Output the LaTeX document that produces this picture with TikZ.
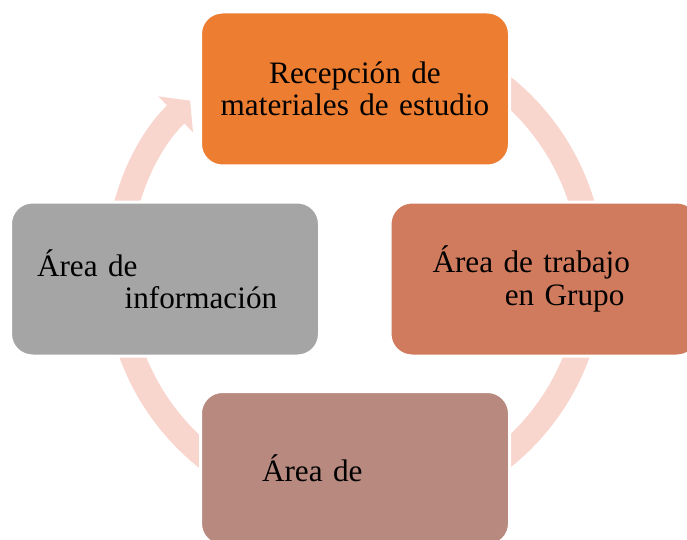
\documentclass[tikz,border=0pt]{standalone}
\usepackage{fontspec}
\setmainfont{Liberation Serif}
\usetikzlibrary{positioning,arrows.meta}

\definecolor{recepcion}{HTML}{ED7D31}
\definecolor{grupo}{HTML}{D17B5E}
\definecolor{estudio}{HTML}{B8897F}
\definecolor{informacion}{HTML}{A5A5A5}
\definecolor{ciclo}{HTML}{F8D5CD}

\begin{document}
\begin{tikzpicture}[node distance=190pt, on grid,
    area/.style 2 args={rectangle, rounded corners=22pt, draw=white, line width=3pt,
      fill=#1, minimum width=309pt, minimum height=154pt, text width=#2,
      font=\fontsize{31.2pt}{32.3pt}\selectfont, align=left, inner sep=0pt},
    ring/.style={draw=ciclo, line width=25pt, -{Triangle[width=49pt,length=20pt]}}]

  \useasboundingbox (0,0) rectangle (687pt,539pt);

  % circular arrow behind the boxes
  \coordinate (hub) at (354.5pt,267pt);
  \draw[ring] (hub) ++(90:237.5pt) arc[start angle=90, end angle=-226.2, radius=237.5pt];

  \node[area={recepcion}{290pt}, align=center] (top) at (355pt,450pt) {Recepción de\\materiales de estudio};
  \node[area={informacion}{256pt}] (info) [below left=190pt and 190pt of top] {Área de\\\hspace*{87.7pt}información};
  \node[area={estudio}{186pt}] (bottom) [below right=189.5pt and 190pt of info] {Área de};
  \node[area={grupo}{224pt}] (grupo) [above right=189.5pt and 189.5pt of bottom] {Área de trabajo\\\hspace*{72.3pt}en Grupo};

\end{tikzpicture}
\end{document}
